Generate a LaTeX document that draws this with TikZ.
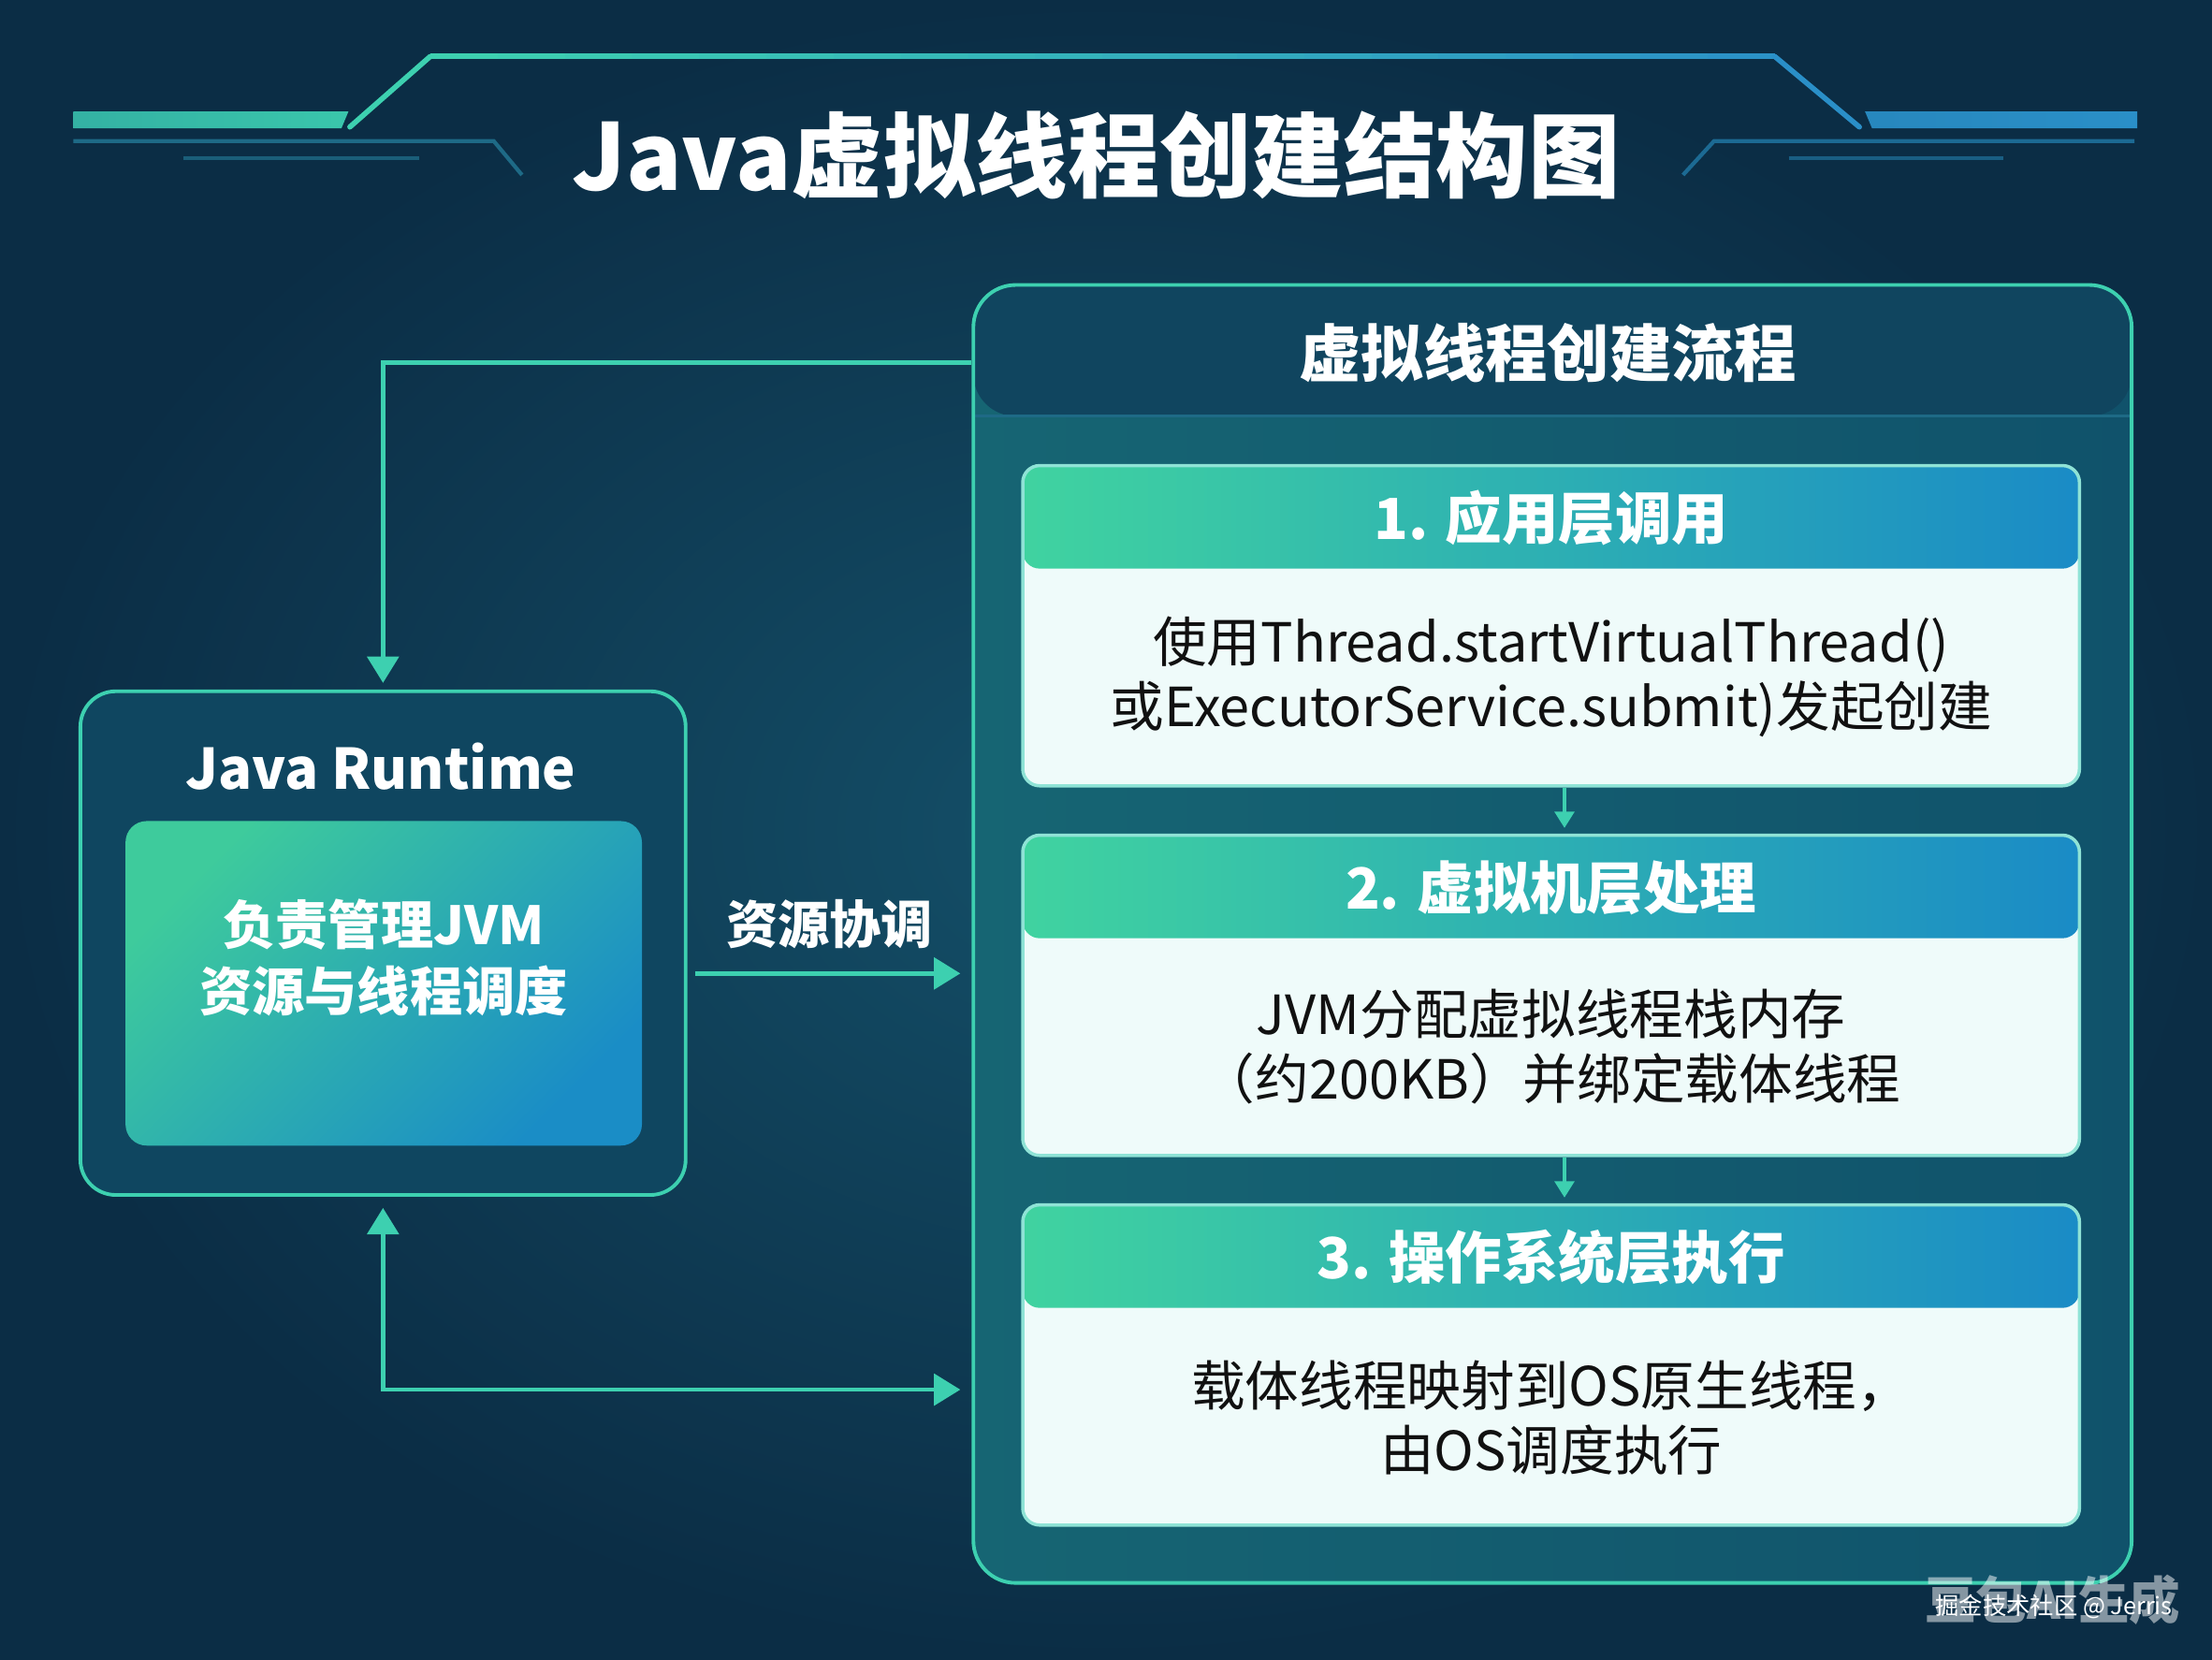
\documentclass[tikz,border=0pt]{standalone}
\usepackage{fontspec}
\setmainfont{Noto Sans CJK SC}
\usetikzlibrary{arrows.meta}
\definecolor{bgIn}{HTML}{145069}
\definecolor{bgOut}{HTML}{0B2D45}
\definecolor{lnC}{HTML}{3DD0B0}
\definecolor{lnB}{HTML}{2A8FC8}
\definecolor{hdL}{HTML}{40D3A0}
\definecolor{hdR}{HTML}{1A8BC6}
\definecolor{bodyC}{HTML}{EFFBFA}
\definecolor{brdC}{HTML}{8FE3D6}
\definecolor{pnHd}{HTML}{10455F}
\definecolor{pnL}{HTML}{166573}
\definecolor{pnR}{HTML}{10526B}
\definecolor{jrC}{HTML}{0F4660}
\definecolor{jrInL}{HTML}{3ECB9C}
\definecolor{jrInR}{HTML}{1A8DC6}
\definecolor{dimC}{HTML}{1E6A86}
\definecolor{dimB}{HTML}{1C6A93}
\definecolor{txtC}{HTML}{111111}
\begin{document}
\begin{tikzpicture}[x=0.0150765cm, y=-0.0150765cm,
  conn/.style={draw=lnC, line width=1.3pt},
  connS/.style={draw=lnC, line width=0.9pt},
  tipA/.style={-{Triangle[length=8pt,width=9.5pt]}},
  tipBoth/.style={{Triangle[length=8pt,width=9.5pt]}-{Triangle[length=8pt,width=9.5pt]}},
  tipS/.style={-{Triangle[length=5pt,width=6pt]}},
  flowbox/.style={rectangle, minimum width=12.378cm, minimum height=13.870cm,
    rounded corners=0.452cm, draw=lnC, line width=1.1pt, inner sep=0pt,
    path picture={
      \shade[left color=pnL, right color=pnR] (path picture bounding box.south west) rectangle (path picture bounding box.north east);
      \fill[pnHd] (path picture bounding box.north west) rectangle ([yshift=-1.402cm]path picture bounding box.north east);
      \draw[dimC, line width=0.8pt] ([yshift=-1.402cm]path picture bounding box.north west) -- ([yshift=-1.402cm]path picture bounding box.north east);
    }},
  stepbox/.style={rectangle, minimum width=11.292cm, minimum height=3.422cm,
    rounded corners=0.181cm, draw=brdC, line width=1pt, inner sep=0pt, fill=bodyC,
    path picture={
      \shade[left color=hdL, right color=hdR] (path picture bounding box.north west) rectangle ([yshift=-1.101cm]path picture bounding box.north east);
    }},
  jrbox/.style={rectangle, minimum width=6.468cm, minimum height=5.382cm,
    rounded corners=0.377cm, draw=lnC, line width=1.1pt, fill=jrC, inner sep=0pt},
  innerbox/.style={rectangle, minimum width=5.518cm, minimum height=3.468cm,
    rounded corners=0.226cm, inner sep=0pt,
    path picture={
      \shade[top color=jrInL, bottom color=jrInR, shading angle=45] (path picture bounding box.south west) rectangle (path picture bounding box.north east);
    }},
  titletxt/.style={text=white, font=\bfseries\fontsize{28}{32}\selectfont},
  panelhd/.style={text=white, font=\bfseries\fontsize{18.9}{22}\selectfont},
  stephd/.style={text=white, font=\bfseries\fontsize{17.2}{20}\selectfont},
  stepbody/.style={text=txtC, align=center, font=\fontsize{16.4}{19.7}\selectfont},
  jrtitle/.style={text=white, font=\bfseries\fontsize{17}{21}\selectfont},
  jrtext/.style={text=white, align=center, font=\bfseries\fontsize{16}{20.2}\selectfont},
  lbltxt/.style={text=white, font=\bfseries\fontsize{15.7}{18}\selectfont},
]
\useasboundingbox (0,0) rectangle (1568,1176);
% background
\shade[inner color=bgIn, outer color=bgOut] (0,0) rectangle (1568,1176);

% title decorations
\foreach \i [evaluate=\i as \a using 305+\i*47.65, evaluate=\i as \b using 305+(\i+1)*47.65, evaluate=\i as \p using int(100-\i*5)] in {0,...,19}
  {\draw[line width=1.6pt, draw=lnC!\p!lnB] (\a,40) -- (\b,40);}
\draw[line width=1.6pt, draw=lnC, line cap=round] (305,40) -- (248,90);
\draw[line width=1.6pt, draw=lnB, line cap=round] (1258,40) -- (1318,90);
\shade[left color=lnC!70!dimC, right color=lnC!90!dimC] (52,79) -- (247,79) -- (242,91) -- (52,91) -- cycle;
\shade[left color=lnB!80!dimB, right color=lnB] (1322,79) -- (1515,79) -- (1515,91) -- (1327,91) -- cycle;
\draw[line width=1.2pt, draw=dimC] (52,100) -- (350,100) -- (370,124);
\draw[line width=1pt, draw=dimC!80!bgOut] (130,112) -- (297,112);
\draw[line width=1.2pt, draw=dimB] (1513,100) -- (1215,100) -- (1193,124);
\draw[line width=1pt, draw=dimB!80!bgOut] (1268,112) -- (1420,112);
\node[titletxt] (title) at (777,110) {Java虚拟线程创建结构图};

% right panel
\node[flowbox] (flow) at (1100.5,662) {};
\node[panelhd] (flowhd) at (1097,250) {虚拟线程创建流程};

% steps
\node[stepbox] (s1) at (1099.5,443.5) {};
\node[stephd] (s1h) at (1099.5,367) {1. 应用层调用};
\node[stepbody] (s1b) at (1099.5,480) {使用Thread.startVirtualThread()\\或ExecutorService.submit)发起创建};

\node[stepbox] (s2) at (1099.5,705.5) {};
\node[stephd] (s2h) at (1099.5,629) {2. 虚拟机层处理};
\node[stepbody] (s2b) at (1099.5,742) {JVM分配虚拟线程栈内存\\（约200KB）并绑定载体线程};

\node[stepbox] (s3) at (1099.5,967.5) {};
\node[stephd] (s3h) at (1099.5,891) {3. 操作系统层执行};
\node[stepbody] (s3b) at (1099.5,1005) {载体线程映射到OS原生线程，\\由OS调度执行};

\draw[connS, tipS, shorten >=1.7pt] ([xshift=0.143cm]s1.south) -- ([xshift=0.143cm]s2.north);
\draw[connS, tipS, shorten >=1.7pt] ([xshift=0.143cm]s2.south) -- ([xshift=0.143cm]s3.north);

% Java runtime
\node[jrbox] (jr) at (271.5,668.5) {};
\node[jrtitle] (jrt) at (270,543) {Java Runtime};
\node[innerbox] (jrin) at (272,697) {};
\node[jrtext] (jrtx) at (272,679) {负责管理JVM\\资源与线程调度};

% connectors
\coordinate (y1) at (0,257);
\coordinate (y2) at (0,690);
\coordinate (y3) at (0,985);
\draw[conn, tipA, shorten >=2pt] (flow.west |- y1) -| (jr.north);
\draw[conn, tipA, shorten <=2.5pt, shorten >=3.4pt] (jr.east |- y2) -- (flow.west |- y2);
\node[lbltxt] (lbl) at (588,655) {资源协调};
\draw[conn, tipBoth, shorten <=3.4pt, shorten >=3.4pt] (jr.south) |- (flow.west |- y3);

% watermark
\node[text=white, opacity=0.5, font=\bfseries\fontsize{15.5}{16}\selectfont] (wm) at (1455,1134) {豆包AI生成};
\node[text=white, font=\fontsize{7.2}{8}\selectfont] (wm2) at (1456,1139) {掘金技术社区 @ Jerris};
\end{tikzpicture}
\end{document}
